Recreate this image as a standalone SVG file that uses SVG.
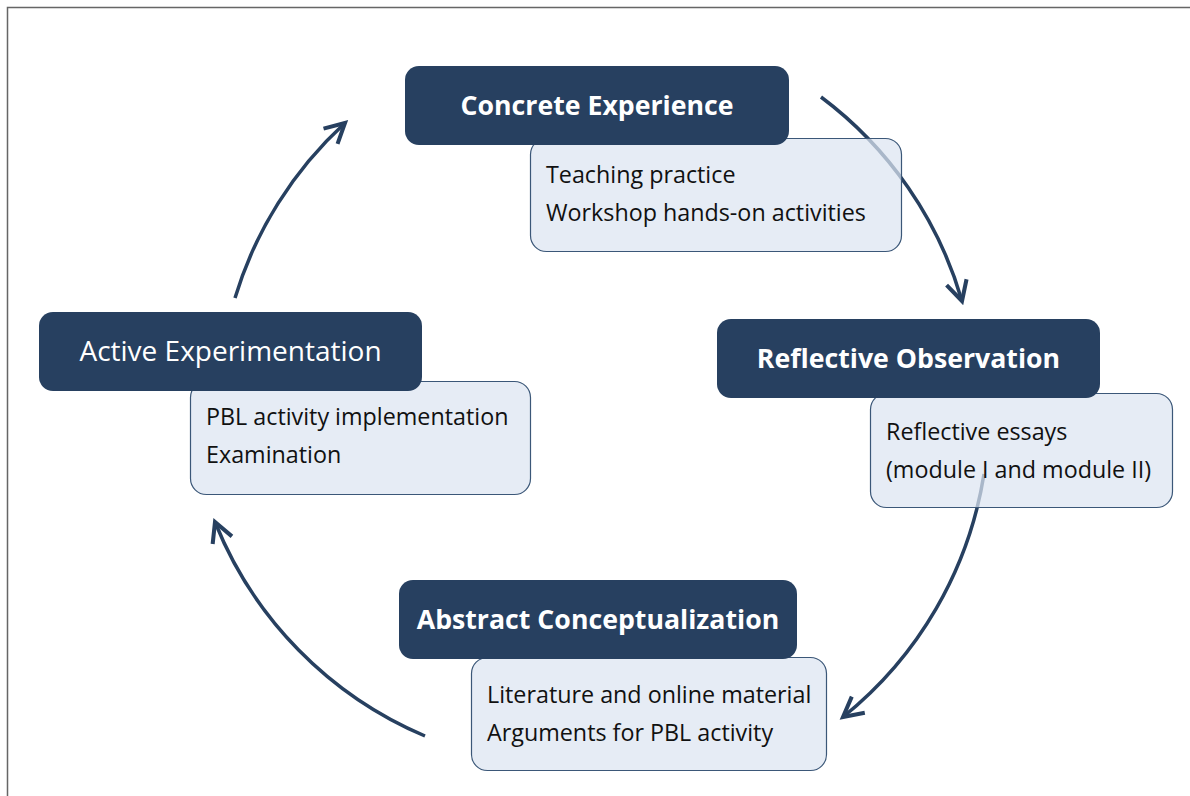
<svg xmlns="http://www.w3.org/2000/svg" width="1190" height="796" viewBox="0 0 1190 796">
<style>
.dark{fill:#274060;}
.light{fill:#dce5f1;fill-opacity:0.72;stroke:#3b5778;stroke-width:1.2;}
.title{font-family:"Open Sans",Lato,sans-serif;font-size:26.7px;font-weight:bold;fill:#ffffff;text-anchor:middle;}
.title2{font-family:"Open Sans",Lato,sans-serif;font-size:28px;fill:#ffffff;text-anchor:middle;}
.body{font-family:"Open Sans",Lato,sans-serif;font-size:23.3px;fill:#111111;}
.arc{fill:none;stroke:#274060;stroke-width:3.5;marker-end:url(#head);}
</style>
<defs>
<marker id="head" markerUnits="userSpaceOnUse" markerWidth="30" markerHeight="30" viewBox="-22 -12 26 24" refX="0" refY="0" orient="auto">
<path d="M -17 -9 L 0 0 L -17 9" fill="none" stroke="#274060" stroke-width="3.5" stroke-linecap="butt" stroke-linejoin="miter"/>
</marker>
</defs>
<rect x="0" y="0" width="1190" height="796" fill="#ffffff"/>
<rect x="7.5" y="7.5" width="1200" height="800" fill="none" stroke="#666666" stroke-width="1.5"/>
<g id="connectors">
<path class="arc" d="M 821 97 A 390 390 0 0 1 962 301"/>
<path class="arc" d="M 984 474 A 390 390 0 0 1 843 717"/>
<path class="arc" d="M 425 736 A 390 390 0 0 1 215 522"/>
<path class="arc" d="M 235 298 A 390 390 0 0 1 345 123"/>
</g>
<g id="concrete-experience">
<rect class="light" x="530.5" y="138.5" width="371" height="113" rx="16"/>
<rect class="dark" x="405" y="66" width="384" height="79" rx="14"/>
<text class="title" x="597" y="115">Concrete Experience</text>
<text class="body" x="546" y="183">Teaching practice</text>
<text class="body" x="546" y="221">Workshop hands-on activities</text>
</g>
<g id="reflective-observation">
<rect class="light" x="870.5" y="393.5" width="302" height="114" rx="16"/>
<rect class="dark" x="717" y="319" width="383" height="79" rx="14"/>
<text class="title" x="908.5" y="368">Reflective Observation</text>
<text class="body" x="886" y="440">Reflective essays</text>
<text class="body" x="886" y="478">(module I and module II)</text>
</g>
<g id="abstract-conceptualization">
<rect class="light" x="471.5" y="657.5" width="355" height="113" rx="16"/>
<rect class="dark" x="399" y="580" width="398" height="79" rx="14"/>
<text class="title" x="598" y="629">Abstract Conceptualization</text>
<text class="body" x="487" y="703">Literature and online material</text>
<text class="body" x="487" y="741">Arguments for PBL activity</text>
</g>
<g id="active-experimentation">
<rect class="light" x="190.5" y="381.5" width="340" height="113" rx="16"/>
<rect class="dark" x="39" y="312" width="383" height="79" rx="14"/>
<text class="title2" x="230.5" y="361">Active Experimentation</text>
<text class="body" x="206" y="425">PBL activity implementation</text>
<text class="body" x="206" y="463">Examination</text>
</g>
</svg>
